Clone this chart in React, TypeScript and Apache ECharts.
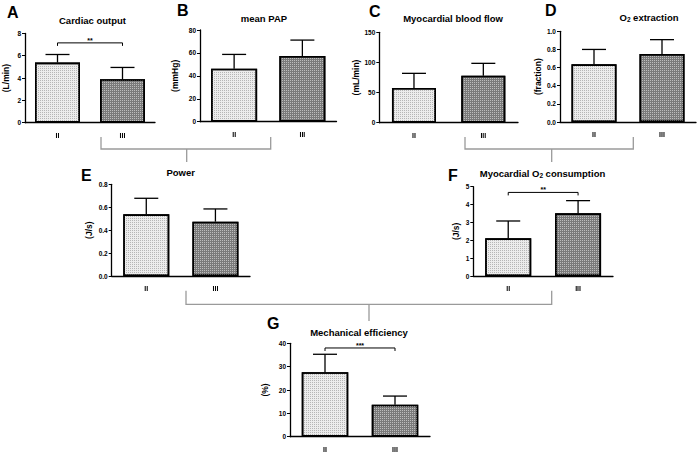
import React, { useEffect, useRef } from 'react';
import * as echarts from 'echarts';

// ---------- data ----------
const categories = ['II', 'III'];

const cardiacOutput = [5.39, 3.9];
const cardiacOutputErr = [0.72, 1.05];

const meanPAP = [46.2, 57.3];
const meanPAPErr = [12.5, 13.9];

const bloodFlow = [57.6, 78.0];
const bloodFlowErr = [24.3, 20.5];

const o2Extraction = [0.636, 0.75];
const o2ExtractionErr = [0.164, 0.158];

const power = [0.538, 0.474];
const powerErr = [0.14, 0.111];

const o2Consumption = [2.11, 3.51];
const o2ConsumptionErr = [0.97, 0.71];

const efficiency = [27.6, 13.7];
const efficiencyErr = [7.7, 3.7];

const panelLetters = ['A', 'B', 'C', 'D', 'E', 'F', 'G'];
const panelTitles = [
  'Cardiac output',
  'mean PAP',
  'Myocardial blood flow',
  'O{sub|2} extraction',
  'Power',
  'Myocardial O{sub|2} consumption',
  'Mechanical efficiency',
];
const panelUnits = ['(L/min)', '(mmHg)', '(mL/min)', '(fraction)', '(J/s)', '(J/s)', '(%)'];
const axisMax = [8, 80, 150, 1, 0.8, 5, 40];
const axisInterval = [2, 20, 50, 0.2, 0.2, 1, 10];
const axisDecimals = [0, 0, 0, 1, 1, 0, 0];

// significance brackets: panel index, height, label
const sigPanel = [0, 5, 6];
const sigHeight = [7.15, 4.68, 38];
const sigLabel = ['**', '**', '***'];

const allValues = [cardiacOutput, meanPAP, bloodFlow, o2Extraction, power, o2Consumption, efficiency];
const allErrors = [cardiacOutputErr, meanPAPErr, bloodFlowErr, o2ExtractionErr, powerErr, o2ConsumptionErr, efficiencyErr];

// ---------- layout (positions / styles) ----------
const layout = [
  { left: 24.5, top: 33.4, bottom: 122.7, right: 155, barW: 45, nameGap: 15, letterX: 7, letterY: 12, titleX: 92.5, titleY: 20 },
  { left: 200, top: 30, bottom: 121.7, right: 336.5, barW: 46, nameGap: 21, letterX: 177, letterY: 10.5, titleX: 264, titleY: 18 },
  { left: 379.3, top: 32.3, bottom: 122.7, right: 518, barW: 44, nameGap: 15, letterX: 369, letterY: 11, titleX: 453, titleY: 18 },
  { left: 560, top: 31.3, bottom: 122, right: 696, barW: 45, nameGap: 18, letterX: 545, letterY: 10.5, titleX: 649, titleY: 17 },
  { left: 111.7, top: 184.3, bottom: 276, right: 250, barW: 46, nameGap: 18, letterX: 81, letterY: 175, titleX: 180.7, titleY: 172 },
  { left: 473.3, top: 186.7, bottom: 276, right: 613, barW: 46, nameGap: 13, letterX: 448, letterY: 175.5, titleX: 542.5, titleY: 173 },
  { left: 290, top: 343.3, bottom: 436.7, right: 430, barW: 46.5, nameGap: 21, letterX: 267, letterY: 323, titleX: 359, titleY: 332 },
];

const FONT = 'Arial, "Liberation Sans", Helvetica, sans-serif';
const BRACKET = '#9a9a9a';

const styleII = {
  color: '#ececec',
  borderColor: '#000',
  borderWidth: 1.6,
  decal: {
    symbol: 'rect',
    symbolSize: 1,
    color: '#b5b5b5',
    backgroundColor: '#f7f7f7',
    dashArrayX: [1, 1],
    dashArrayY: [1, 1],
  },
};
const styleIII = {
  color: '#7a7a7a',
  borderColor: '#000',
  borderWidth: 1.6,
  decal: {
    symbol: 'rect',
    symbolSize: 1,
    color: '#bdbdbd',
    backgroundColor: '#5e5e5e',
    dashArrayX: [1, 1],
    dashArrayY: [1, 1],
  },
};

function buildOption() {
  const grid: any[] = [];
  const xAxis: any[] = [];
  const yAxis: any[] = [];
  const series: any[] = [];
  const graphic: any[] = [];

  layout.forEach((L, i) => {
    grid.push({ left: L.left, top: L.top, width: L.right - L.left, height: L.bottom - L.top, containLabel: false });
    xAxis.push({
      type: 'category',
      gridIndex: i,
      data: categories,
      axisLine: { lineStyle: { color: '#000', width: 1.3 } },
      axisTick: { alignWithLabel: true, length: 3, lineStyle: { color: '#000', width: 1 } },
      axisLabel: {
        color: '#000',
        fontSize: 7,
        fontWeight: 'bold',
        fontFamily: FONT,
        margin: 9,
        textShadowColor: 'rgba(0,0,0,0.06)',
        textShadowBlur: 1,
      },
      splitLine: { show: false },
    });
    const dec = axisDecimals[i];
    yAxis.push({
      type: 'value',
      gridIndex: i,
      min: 0,
      max: axisMax[i],
      interval: axisInterval[i],
      name: panelUnits[i],
      nameLocation: 'middle',
      nameGap: L.nameGap,
      nameRotate: 90,
      nameTextStyle: { color: '#000', fontSize: 8.5, fontWeight: 'bold', fontFamily: FONT },
      axisLine: { show: true, lineStyle: { color: '#000', width: 1.3 } },
      axisTick: { show: true, length: 3, lineStyle: { color: '#000', width: 1 } },
      axisLabel: {
        color: '#000',
        fontSize: 6.5,
        fontWeight: 'bold',
        fontFamily: FONT,
        margin: 4,
        formatter: (v: number) => v.toFixed(dec),
      },
      splitLine: { show: false },
    });

    const vals = allValues[i];
    const errs = allErrors[i];
    series.push({
      type: 'bar',
      xAxisIndex: i,
      yAxisIndex: i,
      barWidth: L.barW,
      z: 2,
      data: vals.map((v, j) => ({ value: v, itemStyle: j === 0 ? styleII : styleIII })),
    });
    series.push({
      type: 'custom',
      xAxisIndex: i,
      yAxisIndex: i,
      z: 3,
      data: vals.map((v, j) => [j, v, v + errs[j]]),
      renderItem: (params: any, api: any) => {
        const x = api.value(0);
        const p0 = api.coord([x, api.value(1)]);
        const p1 = api.coord([x, api.value(2)]);
        const half = 12;
        return {
          type: 'group',
          children: [
            { type: 'line', shape: { x1: p0[0], y1: p0[1], x2: p1[0], y2: p1[1] }, style: { stroke: '#000', lineWidth: 1.3 } },
            { type: 'line', shape: { x1: p1[0] - half, y1: p1[1], x2: p1[0] + half, y2: p1[1] }, style: { stroke: '#000', lineWidth: 1.3 } },
          ],
        };
      },
    });

    graphic.push({
      type: 'text',
      x: L.letterX,
      y: L.letterY,
      style: { text: panelLetters[i], fontSize: 16, fontWeight: 'bold', fontFamily: FONT, fill: '#000', align: 'left', verticalAlign: 'middle' },
    });
    graphic.push({
      type: 'text',
      x: L.titleX,
      y: L.titleY,
      style: {
        text: panelTitles[i],
        fontSize: 9.5,
        fontWeight: 'bold',
        fontFamily: FONT,
        fill: '#000',
        align: 'center',
        verticalAlign: 'middle',
        lineHeight: 12,
        rich: { sub: { fontSize: 6.5, fontWeight: 'bold', fontFamily: FONT, fill: '#000', verticalAlign: 'bottom', lineHeight: 7 } },
      },
    });
  });

  sigPanel.forEach((p, k) => {
    series.push({
      type: 'custom',
      xAxisIndex: p,
      yAxisIndex: p,
      z: 4,
      encode: { x: 0, y: 2 },
      data: [[0, 1, sigHeight[k]]],
      renderItem: (params: any, api: any) => {
        const y = api.value(2);
        const a = api.coord([api.value(0), y]);
        const b = api.coord([api.value(1), y]);
        return {
          type: 'group',
          children: [
            {
              type: 'polyline',
              shape: { points: [[a[0], a[1] + 3], [a[0], a[1]], [b[0], b[1]], [b[0], b[1] + 3]] },
              style: { stroke: '#000', lineWidth: 1, fill: 'none' },
            },
            {
              type: 'text',
              style: { text: sigLabel[k], x: (a[0] + b[0]) / 2, y: a[1] + 1, align: 'center', verticalAlign: 'bottom', fontSize: 7, fontWeight: 'bold', fontFamily: FONT, fill: '#000' },
            },
          ],
        };
      },
    });
  });

  // connecting brackets
  const brackets = [
    { x1: 101, x2: 270.7, yTop: 137, y: 149, cx: 186.7, yEnd: 162 },
    { x1: 465, x2: 633.3, yTop: 137, y: 149, cx: 551.7, yEnd: 162 },
    { x1: 186, x2: 551.7, yTop: 290.7, y: 304.3, cx: 369, yEnd: 321 },
  ];
  brackets.forEach((b) => {
    graphic.push({
      type: 'polyline',
      shape: { points: [[b.x1, b.yTop], [b.x1, b.y], [b.x2, b.y], [b.x2, b.yTop]] },
      style: { stroke: BRACKET, lineWidth: 1.3, fill: 'none' },
    });
    graphic.push({
      type: 'line',
      shape: { x1: b.cx, y1: b.y, x2: b.cx, y2: b.yEnd },
      style: { stroke: BRACKET, lineWidth: 1.3 },
    });
  });

  return {
    animation: false,
    backgroundColor: '#fff',
    grid,
    xAxis,
    yAxis,
    series,
    graphic,
  };
}

export default function App() {
  const ref = useRef<HTMLDivElement>(null);
  useEffect(() => {
    if (!ref.current) return;
    const chart = echarts.init(ref.current, undefined, { renderer: 'svg' });
    chart.setOption(buildOption() as any);
    return () => chart.dispose();
  }, []);
  return <div ref={ref} style={{ position: 'absolute', left: 0, top: 0, width: 700, height: 456, background: '#fff' }} />;
}
